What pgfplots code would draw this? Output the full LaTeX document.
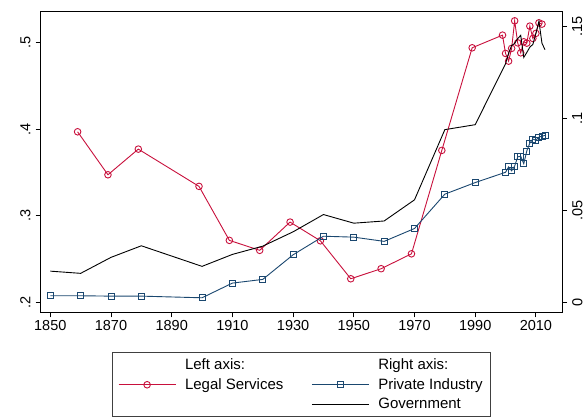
\documentclass[border=0pt]{standalone}
\usepackage{pgfplots}
\pgfplotsset{compat=1.18}
\usepackage{fontspec}
\setmainfont{Liberation Sans}
\definecolor{legalred}{RGB}{200,16,60}
\definecolor{privblue}{RGB}{26,71,111}

\pgfplotstableread{
year val
1859 .3968
1869 .3472
1879 .3768
1899 .3338
1909 .2715
1919 .2600
1929 .2926
1939 .2710
1949 .2272
1959 .2388
1969 .2560
1979 .3753
1989 .4937
1999 .5083
2000 .4872
2001 .4783
2002 .4930
2003 .5248
2004 .4994
2005 .4879
2006 .5006
2007 .4991
2008 .5187
2009 .5045
2010 .5103
2011 .5225
2012 .5210
}\legal

\pgfplotstableread{
year val
1850 .0036
1860 .0036
1870 .0034
1880 .0034
1900 .0025
1910 .0105
1920 .0125
1930 .0259
1940 .0360
1950 .0355
1960 .0332
1970 .0402
1980 .0589
1990 .0652
2000 .0708
2001 .0737
2002 .0716
2003 .0742
2004 .0792
2005 .0795
2006 .0755
2007 .0824
2008 .0867
2009 .0889
2010 .0882
2011 .0900
2012 .0904
2013 .0909
}\private

\pgfplotstableread{
year val
1850 .0170
1860 .0158
1870 .0245
1880 .0308
1900 .0196
1910 .0261
1920 .0306
1930 .0384
1940 .0478
1950 .0431
1960 .0443
1970 .0558
1980 .0940
1990 .0967
2000 .1299
2001 .1355
2002 .1398
2003 .1409
2004 .1436
2005 .1453
2006 .1333
2007 .1360
2008 .1389
2009 .1404
2010 .1464
2011 .1530
2012 .1410
2013 .1375
}\govt

\begin{document}
\begin{tikzpicture}
\pgfplotsset{
  base/.style={
    width=521.3pt, height=301pt, scale only axis,
    xmin=1846.84, xmax=2018.6,
    at={(0,0)}, anchor=south west,
    tick align=outside, major tick length=5pt,
    every tick/.style={black, line width=0.9pt},
    axis line style={line width=1pt},
    /pgf/number format/assume math mode=true,
    tick label style={font=\fontsize{14.5}{17}\selectfont},
    legend image code/.code={\draw[mark repeat=2,mark phase=2,##1] plot coordinates {(0pt,0pt) (28.5pt,0pt) (57pt,0pt)};},
  },
  legalstyle/.style={legalred, line width=0.9pt, mark=o, mark size=3.3pt, mark options={line width=0.9pt}},
  privstyle/.style={privblue, line width=0.9pt, mark=square, mark size=3pt, mark options={line width=0.9pt}},
  govstyle/.style={black, line width=0.9pt},
}
\path[use as bounding box] (-40.7pt,-103.7pt) rectangle (545.3pt,312.3pt);
\begin{axis}[base,
  ymin=0.1885, ymax=0.5358,
  xtick={1850,1870,1890,1910,1930,1950,1970,1990,2010},
  xticklabels={1850,1870,1890,1910,1930,1950,1970,1990,2010},
  xtick pos=left, ytick pos=left,
  ytick={.2,.3,.4,.5}, yticklabels={.2,.3,.4,.5},
  yticklabel style={rotate=90, anchor=south, inner ysep=5pt},
]
\addplot[legalstyle] table[x=year,y=val] {\legal};
\end{axis}
\begin{axis}[base,
  ymin=-0.0054, ymax=0.1584,
  hide x axis,
  axis y line*=right,
  ytick={0,.05,.1,.15}, yticklabels={0,.05,.1,.15},
  yticklabel style={rotate=90, anchor=north, inner ysep=5pt},
  legend columns=2,
  legend cell align=left,
  legend style={at={(axis description cs:0.5,0)}, anchor=north, yshift=-40pt,
    draw=black!75, line width=0.8pt,
    font=\fontsize{15}{18}\selectfont,
    inner xsep=6pt, inner ysep=4pt, row sep=3.5pt,
    /tikz/every odd column/.append style={column sep=7pt},
    /tikz/every even column/.append style={column sep=26pt}},
]
\addlegendimage{empty legend}\addlegendentry{Left axis:}
\addlegendimage{empty legend}\addlegendentry{Right axis:}
\addlegendimage{legalstyle}\addlegendentry{Legal Services}
\addlegendimage{privstyle}\addlegendentry{Private Industry}
\addlegendimage{empty legend}\addlegendentry{}
\addlegendimage{govstyle}\addlegendentry{Government}
\addplot[govstyle, forget plot] table[x=year,y=val] {\govt};
\addplot[privstyle, forget plot] table[x=year,y=val] {\private};
\end{axis}
\end{tikzpicture}
\end{document}
